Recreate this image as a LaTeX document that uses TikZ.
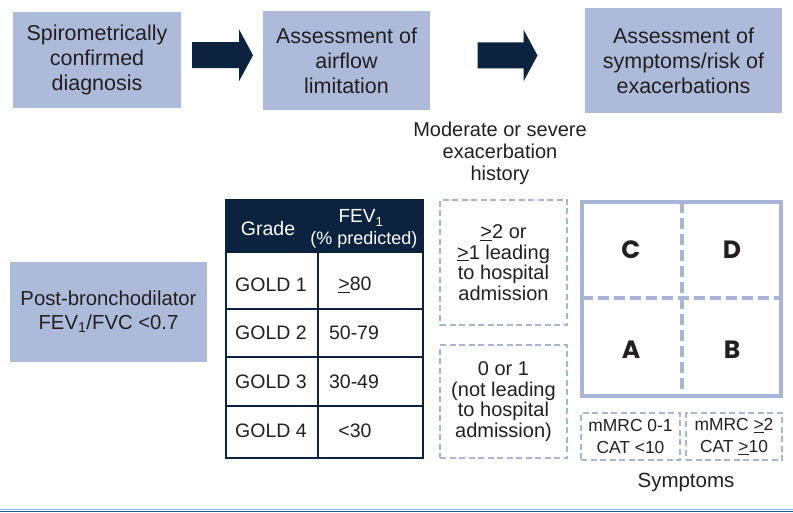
\documentclass[tikz,border=0pt]{standalone}
\usepackage{fontspec}
\setmainfont{Liberation Sans}
\newfontfamily\letterfont{Poppins}
\usetikzlibrary{calc}
\definecolor{lav}{RGB}{174,186,217}
\definecolor{lavline}{RGB}{169,181,216}
\definecolor{navy}{RGB}{12,35,64}
\definecolor{txt}{RGB}{35,31,32}
\definecolor{rule}{RGB}{25,85,155}
\definecolor{rulelight}{RGB}{140,180,222}
\tikzset{
  lavbox/.style={fill=lav, draw=none, align=center, text=txt, font=\fontsize{21.5}{25}\selectfont, inner sep=0pt},
  dbox/.style={draw=lavline, line width=1.6pt, dash pattern=on 6pt off 3.5pt, align=center, text=txt, font=\fontsize{20}{20.5}\selectfont, inner sep=0pt},
  plain/.style={align=center, text=txt, font=\fontsize{20}{22}\selectfont, inner sep=0pt},
  cell/.style={text=txt, font=\fontsize{19.5}{20}\selectfont, inner sep=0pt, anchor=center},
  letter/.style={text=txt, font=\letterfont\bfseries\fontsize{25}{25}\selectfont, inner sep=0pt},
  gridline/.style={draw=lavline, line width=4pt},
  griddash/.style={draw=lavline, line width=4pt, dash pattern=on 11pt off 5pt},
  barrow/.style={fill=navy, draw=none}
}
\begin{document}
\begin{tikzpicture}[x=1pt, y=-1pt]
\useasboundingbox (0,0) rectangle (793,513);
% top boxes
\node[lavbox, minimum width=168pt, minimum height=96pt] (b1) at (97,60) {Spirometrically\\confirmed\\diagnosis};
\node[lavbox, minimum width=167pt, minimum height=99pt] (b2) at (346.5,60.5) {Assessment of\\airflow\\limitation};
\node[lavbox, minimum width=197pt, minimum height=105pt] (b3) at (683.5,60.5) {Assessment of\\symptoms/risk of\\exacerbations};
% block arrows
\coordinate (a1) at ($(b1.east)!0.5!(b2.west) + (0,-5)$);
\coordinate (a2) at ($(b2.east)!0.5!(b3.west) + (0,-5)$);
\fill[barrow, shift={(a1)}] (-30,-13) -- (17,-13) -- (17,-26) -- (31,0) -- (17,26) -- (17,13) -- (-30,13) -- cycle;
\fill[barrow, shift={(a2)}] (-30,-13) -- (16,-13) -- (16,-26) -- (30,0) -- (16,26) -- (16,13) -- (-30,13) -- cycle;
% exacerbation history label
\node[plain] (hist) at (500,153) {Moderate or severe\\exacerbation\\history};
% left box
\node[lavbox, font=\fontsize{20.3}{24}\selectfont, minimum width=197pt, minimum height=100pt] (pb) at (108.5,312) {Post-bronchodilator\\FEV\textsubscript{1}/FVC {<}0.7};
% table
\fill[navy] (226,200) rectangle (423,253);
\draw[navy, line width=1.2pt] (226,309) -- (423,309);
\draw[navy, line width=1.2pt] (226,357) -- (423,357);
\draw[navy, line width=1.2pt] (226,406) -- (423,406);
\draw[navy, line width=1.2pt] (318,253) -- (318,458);
\draw[navy, line width=2pt] (226,200) rectangle (423,458);
\node[cell, text=white] (hg) at (268,229) {Grade};
\node[cell, text=white, font=\fontsize{19}{19}\selectfont] (hf) at (361,218) {FEV\textsubscript{1}};
\node[cell, text=white, font=\fontsize{18}{18}\selectfont] (hp) at (364,240) {(\% predicted)};
\node[cell] (g1) at (271,285) {GOLD 1};
\node[cell] (g2) at (271,333) {GOLD 2};
\node[cell] (g3) at (271,382) {GOLD 3};
\node[cell] (g4) at (271,431) {GOLD 4};
\node[cell] (v1) at (355,285) {\underline{>}80};
\node[cell] (v2) at (354,333) {50-79};
\node[cell] (v3) at (354,382) {30-49};
\node[cell] (v4) at (355,431) {{<}30};
% exacerbation boxes
\node[dbox, minimum width=127pt, minimum height=125pt] (e1) at (503.5,262.5) {\underline{>}2 or\\\underline{>}1 leading\\to hospital\\admission};
\node[dbox, minimum width=127pt, minimum height=113pt] (e2) at (503.5,401.5) {0 or 1\\(not leading\\to hospital\\admission)};
% grid
\coordinate (gtl) at (582,202);
\coordinate (gbr) at (781,396);
\draw[griddash] (681.5,202) -- (681.5,396);
\draw[griddash] (582,298) -- (781,298);
\draw[gridline] (gtl) rectangle (gbr);
\node[letter] (lc) at (631,250) {C};
\node[letter] (ld) at (732,250) {D};
\node[letter] (la) at (631,350) {A};
\node[letter] (lb) at (732,350) {B};
% symptom boxes
\node[dbox, minimum width=99pt, minimum height=47pt, font=\fontsize{17.4}{21.5}\selectfont] (s1) at (630.5,436.5) {mMRC 0-1\\CAT {<}10};
\node[dbox, minimum width=96pt, minimum height=47pt, font=\fontsize{17.4}{21.5}\selectfont] (s2) at (734,436.5) {mMRC \underline{>}2\\CAT \underline{>}10};
\node[plain, font=\fontsize{20.5}{23}\selectfont] (sym) at (686,482) {Symptoms};
% bottom rule
\draw[rulelight, line width=1pt] (0,509.5) -- (793,509.5);
\draw[rule, line width=1.6pt] (0,511.5) -- (793,511.5);
\end{tikzpicture}
\end{document}
